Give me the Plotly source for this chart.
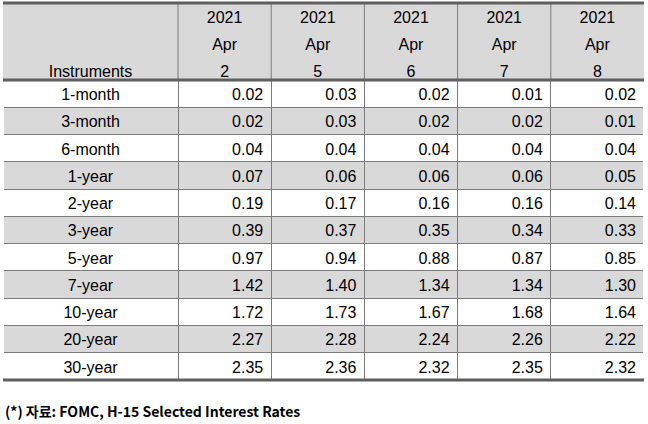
import plotly.graph_objects as go

instruments = ["1-month", "3-month", "6-month", "1-year", "2-year", "3-year",
               "5-year", "7-year", "10-year", "20-year", "30-year"]
years = ["2021", "2021", "2021", "2021", "2021"]
months = ["Apr", "Apr", "Apr", "Apr", "Apr"]
days = ["2", "5", "6", "7", "8"]
apr2 = [0.02, 0.02, 0.04, 0.07, 0.19, 0.39, 0.97, 1.42, 1.72, 2.27, 2.35]
apr5 = [0.03, 0.03, 0.04, 0.06, 0.17, 0.37, 0.94, 1.40, 1.73, 2.28, 2.36]
apr6 = [0.02, 0.02, 0.04, 0.06, 0.16, 0.35, 0.88, 1.34, 1.67, 2.24, 2.32]
apr7 = [0.01, 0.02, 0.04, 0.06, 0.16, 0.34, 0.87, 1.34, 1.68, 2.26, 2.35]
apr8 = [0.02, 0.01, 0.04, 0.05, 0.14, 0.33, 0.85, 1.30, 1.64, 2.22, 2.32]
first_header = "Instruments"
footnote = "(*) 자료: FOMC, H-15 Selected Interest Rates"

W, H = 648, 424
GRAY = "#d9d9d9"
LINE = "#7c7c7c"
THICK = "#5f5f5f"
FONT = "Liberation Sans"
FS = 16

# table geometry in pixels
X0, X1 = 3, 644
Y_TOP, Y_HEAD, Y_BOT = 3, 80, 380
HEAD_LINE = 27          # height of first two header lines
colwidths = [175] + [93.2] * 5


def fx(p):
    return p / W


def fy(p):
    return (H - p) / H


series = [apr2, apr5, apr6, apr7, apr8]
n_rows = len(instruments)
body_h = (Y_BOT - Y_HEAD) / n_rows
y_split = Y_TOP + 2 * HEAD_LINE
font = dict(family=FONT, size=FS, color="black")

# upper header block: year line (header) + month line (cells)
head = go.Table(
    domain=dict(x=[fx(X0), fx(X1)], y=[fy(y_split), fy(Y_TOP)]),
    columnwidth=colwidths,
    header=dict(values=[""] + years, fill_color=GRAY, align="center",
                line=dict(color=GRAY, width=1), height=HEAD_LINE, font=font),
    cells=dict(values=[[""]] + [[m] for m in months], fill_color=GRAY, align="center",
               line=dict(color=GRAY, width=1), height=HEAD_LINE, font=font),
)

# body: day line (header) + data rows
cell_vals = [instruments] + [[f"{v:.2f}" for v in s] for s in series]
row_fill = ["white" if i % 2 == 0 else GRAY for i in range(n_rows)]
body = go.Table(
    domain=dict(x=[fx(X0), fx(X1)], y=[0, fy(y_split)]),
    columnwidth=colwidths,
    header=dict(values=[first_header] + days, fill_color=GRAY, align="center",
                line=dict(color=GRAY, width=1), height=Y_HEAD - y_split, font=font),
    cells=dict(values=cell_vals, fill_color=[row_fill] * len(cell_vals),
               align=["center"] + ["right"] * len(series),
               line=dict(color=LINE, width=1), height=body_h, font=font),
)

fig = go.Figure([head, body])

shapes = []
# column separators inside the header block
total = sum(colwidths)
acc = 0
for w in colwidths[:-1]:
    acc += w
    xx = X0 + (X1 - X0) * acc / total
    shapes.append(dict(type="line", xref="paper", yref="paper", x0=fx(xx), x1=fx(xx),
                       y0=fy(Y_TOP), y1=fy(Y_HEAD), line=dict(color=LINE, width=1), layer="above"))
# hide outer left/right borders of the body
for xx in (X0, X1):
    shapes.append(dict(type="line", xref="paper", yref="paper", x0=fx(xx), x1=fx(xx),
                       y0=fy(Y_HEAD + 1.5), y1=fy(Y_BOT - 1.5), line=dict(color="white", width=2),
                       layer="above"))
# thick rules
for yy in (Y_TOP, Y_HEAD, Y_BOT):
    shapes.append(dict(type="line", xref="paper", yref="paper", x0=fx(X0), x1=fx(X1),
                       y0=fy(yy), y1=fy(yy), line=dict(color=THICK, width=3), layer="above"))

fig.update_layout(
    width=W, height=H, margin=dict(l=0, r=0, t=0, b=0),
    paper_bgcolor="white", plot_bgcolor="white", shapes=shapes,
    annotations=[dict(text="<b>" + footnote + "</b>", xref="paper", yref="paper",
                      x=fx(3), y=fy(411), xanchor="left", yanchor="middle", showarrow=False,
                      font=dict(family="Noto Sans CJK KR", size=14, color="black"))],
)
fig.write_html("out.html", config={"displayModeBar": False},
               post_script="document.body.style.margin='0';")
